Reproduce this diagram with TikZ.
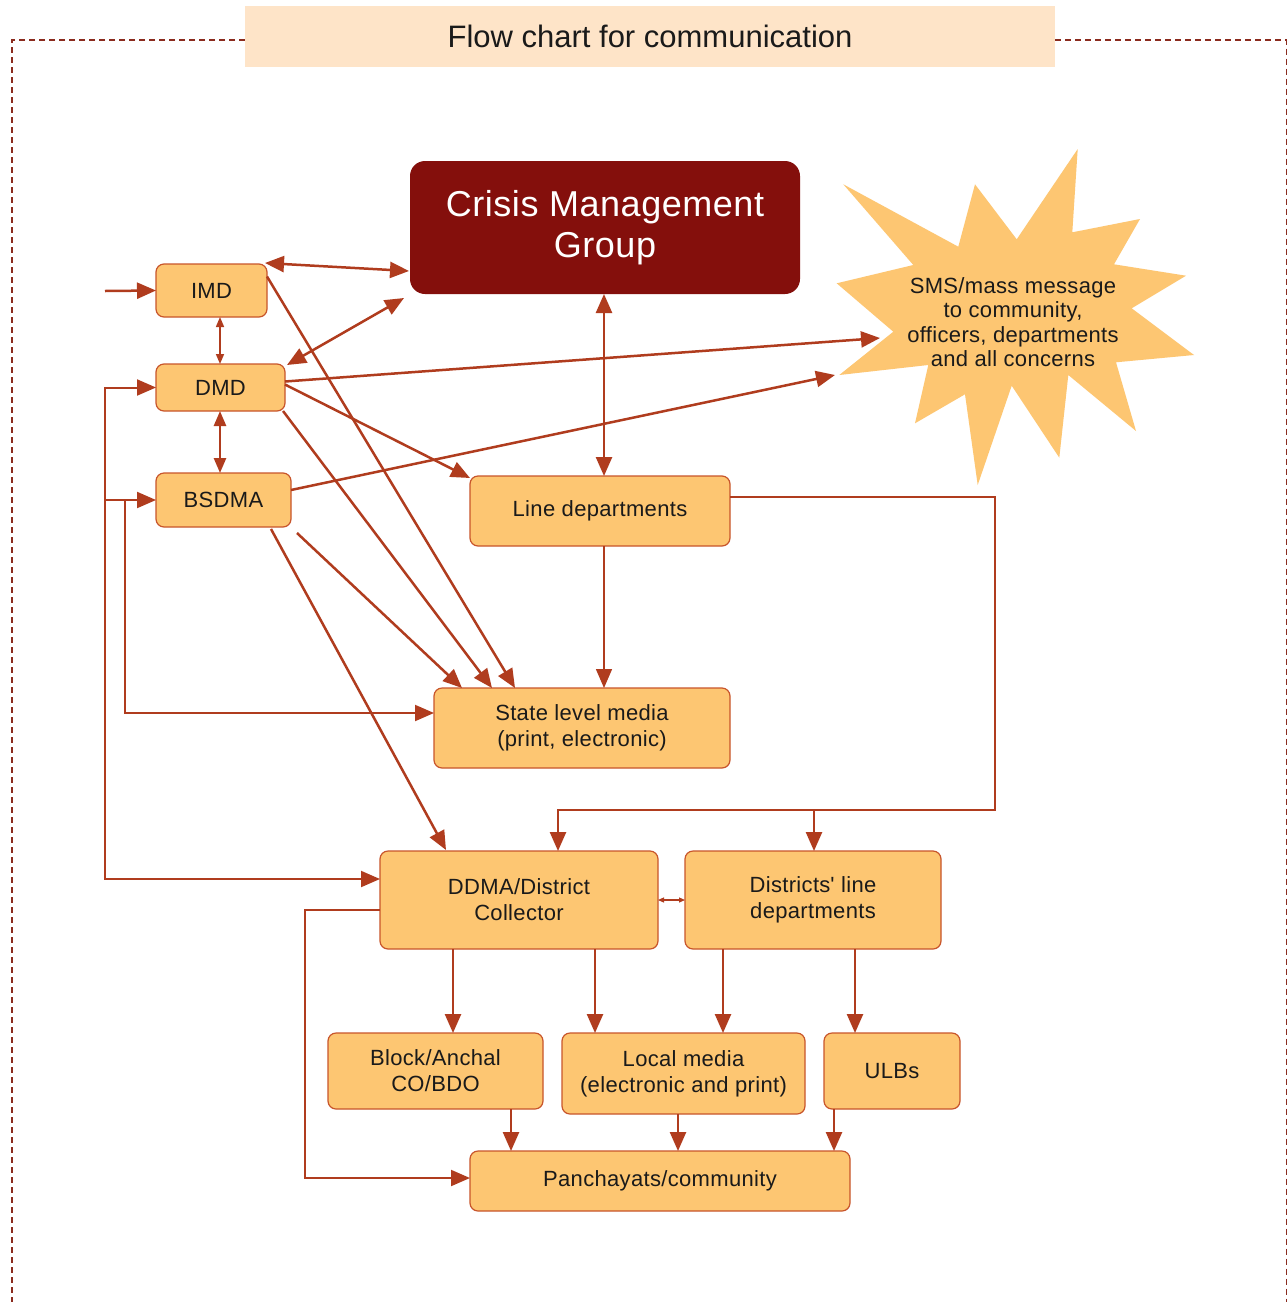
\documentclass[tikz,border=0pt]{standalone}
\usepackage{fontspec}
\setmainfont{Liberation Sans}
\newfontfamily\bfnt{Liberation Sans}[LetterSpace=1.5]
\usetikzlibrary{arrows.meta,calc}
\definecolor{boxfill}{HTML}{FDC672}
\definecolor{boxline}{HTML}{C8552B}
\definecolor{arrcol}{HTML}{B03C1E}
\definecolor{cmgfill}{HTML}{840F0C}
\definecolor{titlefill}{HTML}{FEE4C8}
\definecolor{dashcol}{HTML}{8B2B1E}
\definecolor{txt}{HTML}{1A1A1A}
\begin{document}
\begin{tikzpicture}[x=1pt,y=-1pt,
  box/.style={draw=boxline, line width=1.2pt, fill=boxfill, rounded corners=8pt, align=center,
    inner sep=0pt, outer sep=0pt, text=txt, font=\bfnt\fontsize{22}{26}\selectfont},
  cmgbox/.style={fill=cmgfill, rounded corners=15pt, align=center, inner sep=0pt, outer sep=0pt,
    text=white, font=\bfnt\fontsize{36}{41}\selectfont},
  arr/.style={draw=arrcol, line width=2.5pt, -{Triangle[length=19pt,width=16pt]}},
  arrthin/.style={draw=arrcol, line width=1.5pt, -{Triangle[length=19pt,width=16pt]}},
  arrmid/.style={draw=arrcol, line width=2pt, -{Triangle[length=19pt,width=16pt]}},
  dbl/.style={draw=arrcol, line width=2.5pt, {Triangle[length=19pt,width=16pt]}-{Triangle[length=19pt,width=16pt]}},
  dblleft/.style={draw=arrcol, line width=2pt, {Triangle[length=19pt,width=16pt]}-{Triangle[length=19pt,width=16pt]}},
  dblmd/.style={draw=arrcol, line width=2.5pt, {Triangle[length=15pt,width=12pt]}-{Triangle[length=15pt,width=12pt]}},
  dblsm/.style={draw=arrcol, line width=1.5pt, {Triangle[length=10pt,width=8pt]}-{Triangle[length=10pt,width=8pt]}},
  dbltiny/.style={draw=arrcol, line width=1.2pt, {Triangle[length=6pt,width=5pt]}-{Triangle[length=6pt,width=5pt]}},
]
\useasboundingbox (0,0) rectangle (1288,1302);
\fill[white] (0,0) rectangle (1288,1302);

% dashed frame
\draw[dashcol, line width=1.5pt, dash pattern=on 6pt off 4pt] (245,40) -- (12,40) -- (12,1302);
\draw[dashcol, line width=1.5pt, dash pattern=on 6pt off 4pt] (1055,40) -- (1286.5,40) -- (1286.5,1302);

% title
\node[fill=titlefill, minimum width=810pt, minimum height=61pt, inner sep=0pt, text=txt,
  font=\fontsize{31}{36}\selectfont] (title) at (650,36.5) {\raisebox{-2pt}{Flow chart for communication}};

% star
\fill[boxfill] (843.3,184.3) -- (958.3,246.7) -- (975,184.3) -- (1016.7,239.3) -- (1077.7,149)
  -- (1072.3,232.3) -- (1140,219) -- (1114,264.3) -- (1186,275.7) -- (1131.7,308.3)
  -- (1194,355) -- (1116,362.3) -- (1136,431) -- (1068.3,375) -- (1059.3,457.7)
  -- (1011.7,385.7) -- (977.7,485) -- (965,394.3) -- (915,423.3) -- (928.3,365)
  -- (839.3,375) -- (893.3,331.7) -- (836.7,283.3) -- (913.3,265) -- cycle;
\node[align=center, inner sep=0pt, text=txt, font=\bfnt\fontsize{22}{24.5}\selectfont] (sms) at (1013,322)
  {SMS/mass message\\ to community,\\officers, departments\\and all concerns};

% boxes
\node[cmgbox, minimum width=390pt, minimum height=133pt] (cmg) at (605,227.5) {Crisis Management\\Group};
\node[box, minimum width=111pt, minimum height=53pt] (imd) at (211.5,290.5) {IMD};
\node[box, minimum width=129pt, minimum height=47pt] (dmd) at (220.5,387.5) {DMD};
\node[box, minimum width=135pt, minimum height=54pt] (bsdma) at (223.5,500) {BSDMA};
\node[box, minimum width=260pt, minimum height=70pt] (line) at (600,511) {Line departments};
\node[box, minimum width=296pt, minimum height=80pt] (state) at (582,728) {State level media\\(print, electronic)};
\node[box, minimum width=278pt, minimum height=98pt] (ddma) at (519,900) {DDMA/District\\Collector};
\node[box, minimum width=256pt, minimum height=98pt] (dist) at (813,900) {Districts\textquotesingle\ line\\departments};
\node[box, minimum width=215pt, minimum height=76pt] (block) at (435.5,1071) {Block/Anchal\\CO/BDO};
\node[box, minimum width=243pt, minimum height=81pt] (local) at (683.5,1073.5) {Local media\\(electronic and print)};
\node[box, minimum width=136pt, minimum height=76pt] (ulbs) at (892,1071) {ULBs};
\node[box, minimum width=380pt, minimum height=60pt] (panch) at (660,1181) {Panchayats/community};

% free ends
\coordinate (inA) at (105,291);
\coordinate (starA) at (880,338);
\coordinate (starB) at (835,375);
\coordinate (elb) at (995,810);

% connectors
\draw[arr] (inA) -- (imd.west);
\draw[dbl] ($(imd.north east)+(-2,-1)$) -- ($(cmg.west)+(-1,43.5)$);
\draw[dblsm] ($(imd.south)+(8.5,0)$) -- ($(dmd.north)+(-0.5,0)$);
\draw[dbl] ($(dmd.north east)+(2,1)$) -- ($(cmg.south west)+(-6,4)$);
\draw[arr] ($(dmd.east)+(0,-6)$) -- (starA);
\draw[dblmd] ($(dmd.south)+(-0.5,0)$) -- ($(bsdma.north)+(-3.5,0)$);
\draw[arr] ($(bsdma.east)+(0,-10)$) -- (starB);
\draw[arr] ($(dmd.east)+(0,-3)$) -- ($(line.north west)+(0,2)$);
\draw[dbl] ($(cmg.south)+(-1,0)$) -- ($(line.north)+(4,0)$);
\draw[arr] ($(imd.east)+(0,-14)$) -- ($(state.north west)+(81,0)$);
\draw[arr] ($(dmd.south east)+(-2,0)$) -- ($(state.north west)+(58,0)$);
\draw[arr] ($(bsdma.south east)+(6,6)$) -- ($(state.north west)+(28,0)$);
\draw[arr] ($(bsdma.south east)+(-20,2)$) -- ($(ddma.north west)+(66,-1)$);
\draw[arrthin] ($(line.south)+(4,0)$) -- ($(state.north)+(22,0)$);
\draw[arr] ($(line.east)+(0,-14)$) -| (elb) -| ($(ddma.north)+(39,0)$);
\draw[arr] ($(dist.north)+(1,-41)$) -- ($(dist.north)+(1,0)$);
\draw[dblleft] (dmd.west) -- ++(-51,0) |- ($(ddma.west)+(0,-21)$);
\draw[arrmid] ($(bsdma.west)+(-51,0)$) -- (bsdma.west);
\draw[arrmid] ($(bsdma.west)+(-31,0)$) |- ($(state.west)+(0,-15)$);
\draw[dbltiny] (ddma.east) -- (dist.west);
\draw[arr] ($(ddma.south)+(-66,0)$) -- ($(block.north)+(17.5,0)$);
\draw[arr] ($(ddma.south)+(76,0)$) -- ($(local.north)+(-88.5,0)$);
\draw[arr] ($(dist.south)+(-90,0)$) -- ($(local.north)+(39.5,0)$);
\draw[arr] ($(dist.south)+(42,0)$) -- ($(ulbs.north)+(-37,0)$);
\draw[arr] ($(block.south)+(75.5,0)$) -- ($(panch.north)+(-149,0)$);
\draw[arr] ($(local.south)+(-5.5,0)$) -- ($(panch.north)+(18,0)$);
\draw[arr] ($(ulbs.south)+(-58,0)$) -- ($(panch.north)+(174,0)$);
\draw[arrmid] ($(ddma.west)+(0,10)$) -- ++(-75,0) |- ($(panch.west)+(0,-3)$);
\end{tikzpicture}
\end{document}
